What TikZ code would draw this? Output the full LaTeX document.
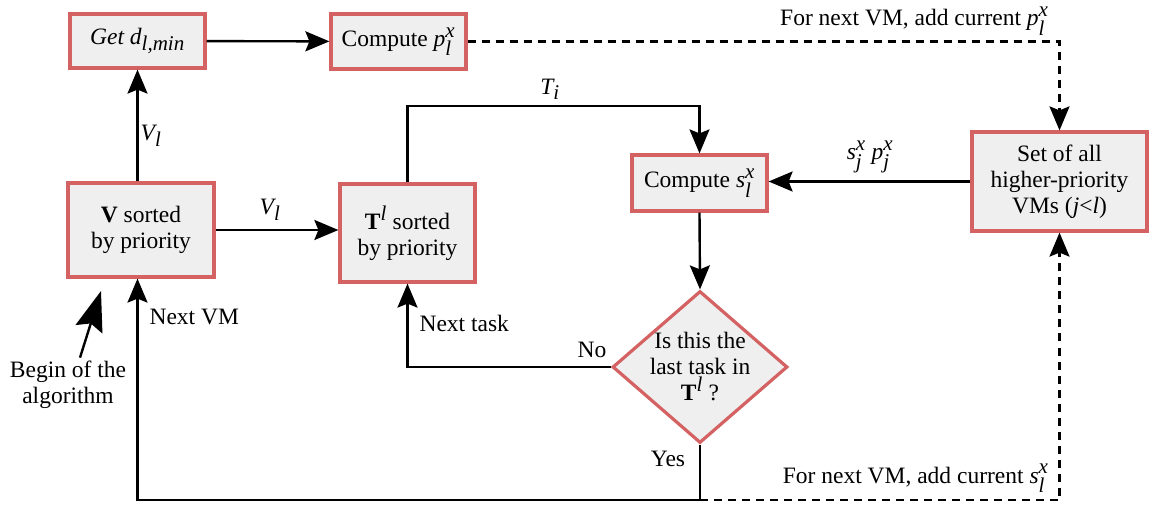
\documentclass[tikz,border=0pt]{standalone}
\usepackage{amsmath}
\usepackage{fontspec}
\setmainfont{Liberation Serif}
\usetikzlibrary{arrows.meta,shapes.geometric}
\DeclareMathSizes{23.5}{23.5}{21}{16}

\definecolor{boxred}{RGB}{212,98,98}
\definecolor{boxfill}{RGB}{239,239,239}

\begin{document}
\begin{tikzpicture}[x=1pt,y=-1pt,font=\fontsize{23.5}{26}\selectfont,
    box/.style={draw=boxred,fill=boxfill,line width=3.2pt,inner sep=0pt,align=center},
    decision/.style={diamond,draw=boxred,fill=boxfill,line width=3.2pt,inner sep=0pt,
      minimum width=175pt,minimum height=152pt},
    arr/.style={line width=2.4pt,-{Stealth[length=24pt,width=20pt,inset=4pt]}},
    dasharr/.style={arr,dash pattern=on 8pt off 6pt}]
    \useasboundingbox (0,0) rectangle (1156,510);

    % boxes
    \node[box,minimum width=135pt,minimum height=54pt] (getd) at (137.5,41)
      {\itshape Get \textit{d}$_{\textit{l,min}}$};
    \node[box,minimum width=135pt,minimum height=55pt] (compp) at (398.5,41.5)
      {Compute \textit{p}$^{\textit{x}}_{\textit{l}}$};
    \node[box,minimum width=146pt,minimum height=94pt] (vsort) at (141,230)
      {\textbf{V} sorted\\by priority};
    \node[box,minimum width=135pt,minimum height=98pt] (tsort) at (407.5,233)
      {\textbf{T}$^{\textit{l}}$ sorted\\by priority};
    \node[box,minimum width=135pt,minimum height=56pt] (comps) at (699.5,183)
      {Compute \textit{s}$^{\textit{x}}_{\textit{l}}$};
    \node[box,minimum width=175pt,minimum height=99pt] (hpset) at (1059.5,181.5)
      {Set of all\\higher-priority\\VMs (\textit{j}<\textit{l})};
    \node[decision] (last) at (700,367) {};
    \node[align=center] (lasttxt) at (last.center)
      {Is this the\\last task in\\\textbf{T}$^{\textit{l}}$ ?};
    \node[align=center] (begin) at (68,385) {Begin of the\\algorithm};

    % bends
    \coordinate (ti) at (550,106);
    \coordinate (loop) at (700,500);
    \coordinate (tip) at (101,291);

    % connectors
    \draw[arr] (vsort.north -| getd.south) -- (getd.south);
    \draw[arr] (getd) -- (compp);
    \draw[dasharr] (compp.east) -| (hpset.north);
    \draw[arr] (vsort.east) -- (tsort.west |- vsort.east);
    \draw[arr] (tsort.north) -- (tsort.north |- ti) -| (comps.north);
    \draw[arr] (hpset.west) -- (comps.east |- hpset.west);
    \draw[arr] (comps.south) -- (last.north);
    \draw[arr] (last.west) -| (tsort.south);
    \draw[arr] (last.south) -- (loop) -| (getd.south |- vsort.south);
    \draw[dasharr] (loop) -| (hpset.south);
    \draw[line width=2.4pt,-{Stealth[length=40pt,width=28pt,inset=6pt]}]
      ([xshift=12pt]begin.north) -- (tip);

    % labels
    \node (vlup) at (151,136) {$\textit{V}_{\textit{l}}$};
    \node (vlright) at (270,210) {$\textit{V}_{\textit{l}}$};
    \node (tilab) at (ti) [above=3pt] {$\textit{T}_{\textit{i}}$};
    \node (splab) at (870,157) {\textit{s}$^{\textit{x}}_{\textit{j}}$ \textit{p}$^{\textit{x}}_{\textit{j}}$};
    \node[anchor=west] (nextvm) at (146,317) {Next VM};
    \node[anchor=west] (nexttask) at (416,323) {Next task};
    \node (nolab) at (592,350) {No};
    \node (yeslab) at (668,459) {Yes};
    \node[anchor=base east] (addp) at (1052,26)
      {For next VM, add current \textit{p}$^{\textit{x}}_{\textit{l}}$};
    \node[anchor=base east] (adds) at (1052,483)
      {For next VM, add current \textit{s}$^{\textit{x}}_{\textit{l}}$};
\end{tikzpicture}
\end{document}
